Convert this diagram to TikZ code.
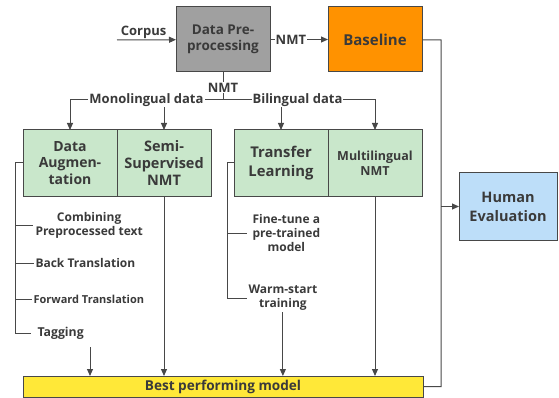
\documentclass[tikz,border=0pt]{standalone}
\usepackage{fontspec}
\setmainfont{Open Sans}
\usetikzlibrary{positioning, arrows.meta}

\definecolor{txtgray}{RGB}{58,58,58}
\definecolor{linegray}{RGB}{72,72,72}
\definecolor{boxgray}{RGB}{160,160,160}
\definecolor{baseorange}{RGB}{255,146,0}
\definecolor{methgreen}{RGB}{201,231,203}
\definecolor{evalblue}{RGB}{189,222,249}
\definecolor{bestyellow}{RGB}{255,232,56}

\tikzset{
  block/.style={draw=linegray, line width=1pt, outer sep=0pt, inner sep=2pt,
    minimum width=94pt, minimum height=65pt, align=center, text=txtgray,
    font=\fontsize{13.5}{16.5}\selectfont\bfseries},
  method/.style={block, fill=methgreen, minimum height=66pt},
  lbl/.style={fill=white, inner sep=1pt, text=txtgray,
    font=\fontsize{13}{15}\selectfont\bfseries},
  item/.style={inner sep=1pt, align=center, text=txtgray,
    font=\fontsize{12}{14}\selectfont\bfseries},
}

\begin{document}
\begin{tikzpicture}[x=1pt, y=-1pt, >={Triangle[length=7pt,width=6pt]}, line width=1pt, color=linegray]
    \useasboundingbox (0,0) rectangle (559,398);

    % boxes
    \node[block, fill=boxgray] (prep) at (223,39.5) {Data Pre-\\processing};
    \node[block, fill=baseorange, font=\fontsize{15}{17}\selectfont\bfseries] (base) at (375,39.5) {Baseline};
    \node[method, font=\fontsize{14}{16.5}\selectfont\bfseries] (aug) at (70,163) {Data\\Augmen-\\tation};
    \node[method, right=0pt of aug, font=\fontsize{14.5}{17}\selectfont\bfseries] (semi) {Semi-\\Supervised\\NMT};
    \node[method, font=\fontsize{14.8}{19}\selectfont\bfseries] (trans) at (281,163) {Transfer\\Learning};
    \node[method, right=0pt of trans, font=\fontsize{12.5}{15}\selectfont\bfseries] (multi) {Multilingual\\NMT};
    \node[block, fill=evalblue, minimum width=98pt, minimum height=67pt,
      font=\fontsize{14.5}{19}\selectfont\bfseries] (human) at (508,206.5) {Human\\Evaluation};
    \node[block, fill=bestyellow, minimum width=400pt, minimum height=21pt,
      font=\fontsize{13.6}{15}\selectfont\bfseries] (best) at (223,386.5) {Best performing model};

    % techniques
    \node[item, anchor=west, inner xsep=2pt] (comb) at (33,225) {Combining\\Preprocessed text};
    \node[item, anchor=west] (back) at (34,263) {Back Translation};
    \node[item, anchor=west, font=\fontsize{11}{13}\selectfont\bfseries] (fwd) at (32,299) {Forward Translation};
    \node[item, anchor=west, inner xsep=6pt, font=\fontsize{12.3}{14}\selectfont\bfseries] (tag) at (31,333) {Tagging};
    \node[item, anchor=west, inner xsep=5pt] (fine) at (247,233) {Fine-tune a\\pre-trained\\model};
    \node[item, anchor=west] (warm) at (247,298) {Warm-start\\training};

    \coordinate (corpus) at (117,40);
    \coordinate (split) at (223,100);
    \coordinate (augbus) at (15,163);
    \coordinate (transbus) at (227,163);
    \coordinate (tagtip) at (90,347);
    \coordinate (bend) at (441,40);

    % connectors
    \draw[->] (corpus) -- node[lbl, above, fill=none, pos=0.45] (corp) {Corpus} (prep);
    \draw[->] (prep) -- node[lbl, pos=0.36] (nmta) {NMT} (base);
    \draw (prep) -- node[lbl, pos=0.55] (nmtb) {NMT} (split);
    \draw[->] (split) -| (semi);
    \draw[->] (split) -| (trans);
    \draw[->] (split) -| node[lbl, pos=0.25] (mono) {Monolingual data} (aug);
    \draw[->] (split) -| node[lbl, pos=0.245] (bili) {Bilingual data} (multi);

    \draw (aug.west) -- (augbus) |- (tag.west);
    \draw (augbus) |- (comb.west);
    \draw (augbus) |- (back.west);
    \draw (augbus) |- (fwd.west);
    \draw (trans.west) -- (transbus) |- (warm.west);
    \draw (transbus) |- (fine.west);

    \draw[->] (tagtip) -- (tagtip |- best.north);
    \draw[->] (semi) -- (semi |- best.north);
    \draw[->] (warm) -- (warm |- best.north);
    \draw[->] (multi) -- (multi |- best.north);

    \draw (base) -- (bend) |- (best);
    \draw[->] (bend |- human.west) -- (human);
\end{tikzpicture}
\end{document}
